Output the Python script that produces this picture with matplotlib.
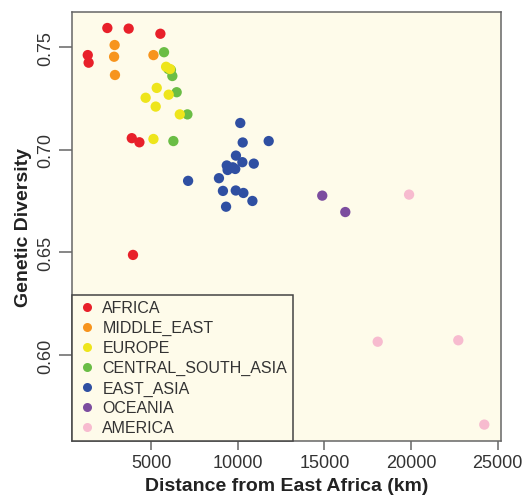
import matplotlib
matplotlib.use("Agg")
from matplotlib import pyplot as plt
from matplotlib.lines import Line2D

plt.rcParams['font.family'] = ['Liberation Sans', 'DejaVu Sans']

regions = ['AFRICA', 'MIDDLE_EAST', 'EUROPE', 'CENTRAL_SOUTH_ASIA',
           'EAST_ASIA', 'OCEANIA', 'AMERICA']
colors = ['#E8202A', '#F7941D', '#EEE51C', '#6ABD45',
          '#2F4FA2', '#7C4D9F', '#F7BBCF']

africa_x = [2480, 3710, 5540, 1350, 1400, 3890, 4330, 3960]
africa_y = [0.7594, 0.7591, 0.7566, 0.7462, 0.7425, 0.7057, 0.7037, 0.6488]

mideast_x = [2900, 2870, 2920, 5140]
mideast_y = [0.7511, 0.7454, 0.7365, 0.7462]

central_x = [5750, 6000, 6150, 6230, 6480, 7100, 6290]
central_y = [0.7476, 0.7394, 0.7389, 0.7360, 0.7281, 0.7173, 0.7043]

europe_x = [5870, 6100, 5330, 4690, 6020, 5270, 6660, 5140]
europe_y = [0.7405, 0.7394, 0.7302, 0.7254, 0.7269, 0.7211, 0.7173, 0.7053]

eastasia_x = [10150, 10290, 11790, 9900, 10270, 10930, 9370, 9860,
              9420, 9720, 7140, 8920, 9150, 9890, 10330, 10850, 9330]
eastasia_y = [0.7131, 0.7036, 0.7043, 0.6972, 0.6940, 0.6933, 0.6924, 0.6907,
              0.6902, 0.6915, 0.6849, 0.6862, 0.6800, 0.6802, 0.6790, 0.6751, 0.6723]

oceania_x = [14880, 16210]
oceania_y = [0.6777, 0.6697]

america_x = [19890, 18080, 22730, 24230]
america_y = [0.6782, 0.6065, 0.6072, 0.5661]

xs = [africa_x, mideast_x, europe_x, central_x, eastasia_x, oceania_x, america_x]
ys = [africa_y, mideast_y, europe_y, central_y, eastasia_y, oceania_y, america_y]
order = [0, 1, 3, 2, 4, 5, 6]

fig = plt.figure(figsize=(5.27, 5.02), dpi=100)
ax = fig.add_axes([0.1366, 0.1195, 0.8141, 0.8546])
ax.set_facecolor('#FEFBEA')

for i in order:
    ax.scatter(xs[i], ys[i], s=55, color=colors[i], edgecolors='none', zorder=3)

ax.set_xlim(440, 25195)
ax.set_ylim(0.5581, 0.7672)
ax.set_xticks([5000, 10000, 15000, 20000, 25000])
ax.set_yticks([0.60, 0.65, 0.70, 0.75])
ax.set_yticklabels(['0.60', '0.65', '0.70', '0.75'], rotation=90, va='center')

for s in ax.spines.values():
    s.set_color('#666666')
    s.set_linewidth(1.1)
ax.tick_params(axis='both', colors='#666666', labelcolor='#333333', labelsize=13, width=1.1)
ax.tick_params(axis='x', length=6.5, pad=3)
ax.tick_params(axis='y', length=9.5, pad=3)

ax.set_xlabel('Distance from East Africa (km)', fontsize=14, fontweight='bold',
              color='#222222', labelpad=4)
ax.set_ylabel('Genetic Diversity', fontsize=14, fontweight='bold',
              color='#222222', labelpad=4)

handles = [Line2D([], [], marker='o', linestyle='none', markersize=6.5,
                  markerfacecolor=c, markeredgecolor='none') for c in colors]
leg = ax.legend(handles, regions, loc='lower left', bbox_to_anchor=(0, 0),
                borderaxespad=0, fancybox=False, framealpha=1, fontsize=11.5,
                handletextpad=0.35, handlelength=1.2, labelspacing=0.31,
                borderpad=0.35, labelcolor='#333333')
leg.get_frame().set_facecolor('#FEFBEA')
leg.get_frame().set_edgecolor('#444444')
leg.get_frame().set_linewidth(1.1)

fig.savefig('out.png', dpi=100)
